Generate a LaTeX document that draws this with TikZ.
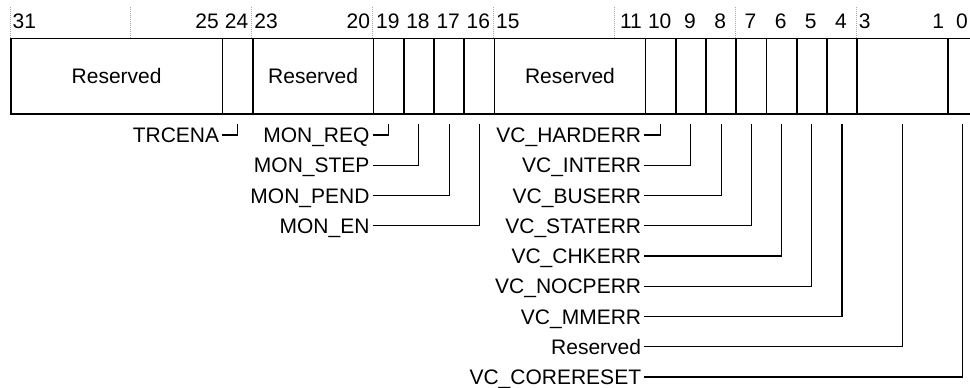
\documentclass[tikz,border=0pt]{standalone}
\usepackage{fontspec}
\setmainfont{Liberation Sans}
\begin{document}
\begin{tikzpicture}[x=1pt,y=-1pt,
  font=\fontsize{21}{25}\selectfont,
  cell/.style={draw, line width=1.8pt, minimum height=75.2pt, inner sep=0pt, anchor=north west},
  bitnum/.style={inner xsep=2.5pt, inner ysep=0pt},
  lab/.style={anchor=east, inner xsep=3pt, inner ysep=0pt, text height=15pt, text depth=0pt},
  conn/.style={draw, line width=1.1pt},
  tick/.style={draw=gray!70, line width=0.8pt, dash pattern=on 1pt off 1pt}]
\useasboundingbox (0,0) rectangle (970,388);
\def\bw{30.22}
% dotted ticks every four bits
\foreach \k in {0,...,8}{
  \pgfmathsetmacro\tkx{10+4*\k*\bw}
  \draw[tick] (\tkx,7) -- (\tkx,37.5);
}
% register cells
\foreach \m/\l/\txt in {31/25/Reserved,24/24/{},23/20/Reserved,19/19/{},18/18/{},17/17/{},16/16/{},15/11/Reserved,10/10/{},9/9/{},8/8/{},7/7/{},6/6/{},5/5/{},4/4/{},3/1/{},0/0/{}}{
  \pgfmathsetmacro\xl{10+(31-\m)*\bw}
  \pgfmathsetmacro\cw{(\m-\l+1)*\bw}
  \node[cell, minimum width=\cw pt] (c\l) at (\xl,37.5) {\txt};
}
% bit numbers of multi-bit fields
\foreach \m/\l in {31/25,23/20,15/11,3/1}{
  \pgfmathsetmacro\xl{10+(31-\m)*\bw}
  \pgfmathsetmacro\xr{10+(32-\l)*\bw}
  \node[bitnum, anchor=base west] (n\m) at (\xl,28.5) {\m};
  \node[bitnum, anchor=base east] (n\l) at (\xr,28.5) {\l};
}
% bit numbers of single-bit fields
\foreach \b in {24,19,18,17,16,10,9,8,7,6,5,4,0}{
  \pgfmathsetmacro\xc{10+(31.5-\b)*\bw}
  \node[bitnum, anchor=base] (n\b) at (\xc,28.5) {\b};
}
% labels
\node[lab] (lTRCENA) at (222.3,135) {TRCENA};
\node[lab] (lREQ)  at (372.7,135)    {MON\_REQ};
\node[lab] (lSTEP) at (372.7,165.25) {MON\_STEP};
\node[lab] (lPEND) at (372.7,195.5)  {MON\_PEND};
\node[lab] (lEN)   at (372.7,225.75) {MON\_EN};
\node[lab] (lHARD) at (644.3,135)    {VC\_HARDERR};
\node[lab] (lINT)  at (644.3,165.25) {VC\_INTERR};
\node[lab] (lBUS)  at (644.3,195.5)  {VC\_BUSERR};
\node[lab] (lSTAT) at (644.3,225.75) {VC\_STATERR};
\node[lab] (lCHK)  at (644.3,256)    {VC\_CHKERR};
\node[lab] (lNOCP) at (644.3,286.25) {VC\_NOCPERR};
\node[lab] (lMM)   at (644.3,316.5)  {VC\_MMERR};
\node[lab] (lRES)  at (644.3,346.75) {Reserved};
\node[lab] (lCORE) at (644.3,377)    {VC\_CORERESET};
% connectors
\draw[conn] (lTRCENA.east) -| ([yshift=-9pt]c24.south);
\draw[conn] (lREQ.east)  -| ([yshift=-9pt]c19.south);
\draw[conn] (lSTEP.east) -| ([yshift=-9pt]c18.south);
\draw[conn] (lPEND.east) -| ([yshift=-9pt]c17.south);
\draw[conn] (lEN.east)   -| ([yshift=-9pt]c16.south);
\draw[conn] (lHARD.east) -| ([yshift=-9pt]c10.south);
\draw[conn] (lINT.east)  -| ([yshift=-9pt]c9.south);
\draw[conn] (lBUS.east)  -| ([yshift=-9pt]c8.south);
\draw[conn] (lSTAT.east) -| ([yshift=-9pt]c7.south);
\draw[conn] (lCHK.east)  -| ([yshift=-9pt]c6.south);
\draw[conn] (lNOCP.east) -| ([yshift=-9pt]c5.south);
\draw[conn] (lMM.east)   -| ([yshift=-9pt]c4.south);
\draw[conn] (lRES.east)  -| ([yshift=-9pt]c1.south);
\draw[conn] (lCORE.east) -| ([yshift=-9pt]c0.south);
\end{tikzpicture}
\end{document}
